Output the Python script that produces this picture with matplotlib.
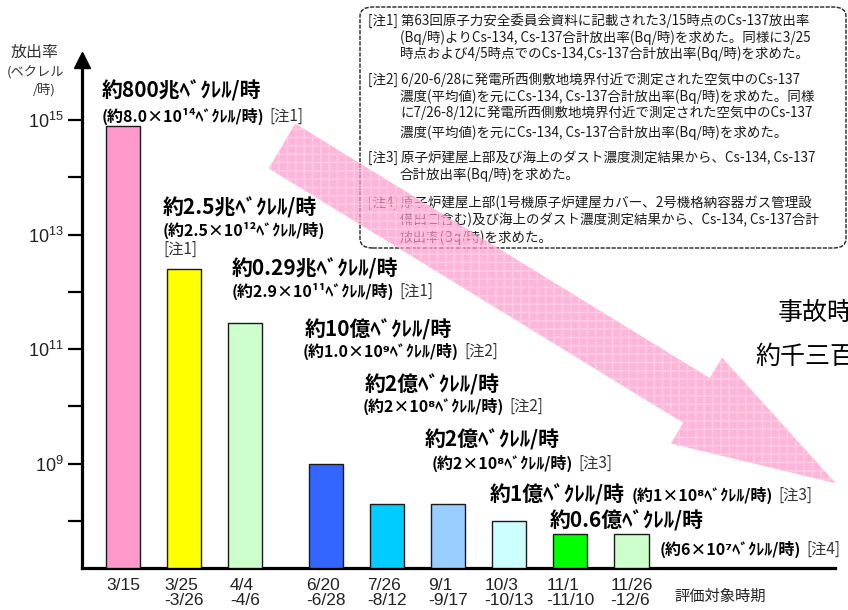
import numpy as np
import matplotlib
matplotlib.use('Agg')
import matplotlib.pyplot as plt
from matplotlib.patches import Polygon, FancyBboxPatch
from matplotlib.ticker import FixedLocator, FixedFormatter, NullFormatter

plt.rcParams['font.family'] = ['Noto Sans CJK JP', 'DejaVu Sans']
plt.rcParams['mathtext.default'] = 'regular'

# ---------------- data ----------------
periods = ['3/15', '3/25\n-3/26', '4/4\n-4/6', '6/20\n-6/28', '7/26\n-8/12',
           '9/1\n-9/17', '10/3\n-10/13', '11/1\n-11/10', '11/26\n-12/6']
rates = [8.0e14, 2.5e12, 2.9e11, 1.0e9, 2e8, 2e8, 1e8, 6e7, 6e7]
bar_colors = ['#ff99cc', '#ffff00', '#ccffcc', '#3366ff', '#00ccff',
              '#99ccff', '#ccffff', '#00ff00', '#ccffcc']
main_labels = ['約800兆ﾍﾞｸﾚﾙ/時', '約2.5兆ﾍﾞｸﾚﾙ/時', '約0.29兆ﾍﾞｸﾚﾙ/時',
               '約10億ﾍﾞｸﾚﾙ/時', '約2億ﾍﾞｸﾚﾙ/時', '約2億ﾍﾞｸﾚﾙ/時',
               '約1億ﾍﾞｸﾚﾙ/時', '約0.6億ﾍﾞｸﾚﾙ/時']
sci_labels = ['(約8.0×10¹⁴ﾍﾞｸﾚﾙ/時)', '(約2.5×10¹²ﾍﾞｸﾚﾙ/時)', '(約2.9×10¹¹ﾍﾞｸﾚﾙ/時)',
              '(約1.0×10⁹ﾍﾞｸﾚﾙ/時)', '(約2×10⁸ﾍﾞｸﾚﾙ/時)', '(約2×10⁸ﾍﾞｸﾚﾙ/時)',
              '(約1×10⁸ﾍﾞｸﾚﾙ/時)', '(約6×10⁷ﾍﾞｸﾚﾙ/時)']
note_refs = ['[注1]', '[注1]', '[注1]', '[注2]', '[注2]', '[注3]', '[注3]', '[注4]']
major_ticks = [1e15, 1e13, 1e11, 1e9]
major_tick_labels = ['$10^{15}$', '$10^{13}$', '$10^{11}$', '$10^{9}$']
minor_ticks = [1e14, 1e12, 1e10, 1e8]
notes = [
    ('[注1] 第63回原子力安全委員会資料に記載された3/15時点のCs-137放出率',
     '(Bq/時)よりCs-134, Cs-137合計放出率(Bq/時)を求めた。同様に3/25',
     '時点および4/5時点でのCs-134,Cs-137合計放出率(Bq/時)を求めた。'),
    ('[注2] 6/20-6/28に発電所西側敷地境界付近で測定された空気中のCs-137',
     '濃度(平均値)を元にCs-134, Cs-137合計放出率(Bq/時)を求めた。同様',
     'に7/26-8/12に発電所西側敷地境界付近で測定された空気中のCs-137',
     '濃度(平均値)を元にCs-134, Cs-137合計放出率(Bq/時)を求めた。'),
    ('[注3] 原子炉建屋上部及び海上のダスト濃度測定結果から、Cs-134, Cs-137',
     '合計放出率(Bq/時)を求めた。'),
    ('[注4] 原子炉建屋上部(1号機原子炉建屋カバー、2号機格納容器ガス管理設',
     '備出口含む)及び海上のダスト濃度測定結果から、Cs-134, Cs-137合計',
     '放出率(Bq/時)を求めた。'),
]

# ---------------- layout ----------------
W, H = 848, 610
def fx(x): return x / W
def fy(y): return 1 - y / H

fig = plt.figure(figsize=(W / 100, H / 100), dpi=100)
ax = fig.add_axes([fx(82), fy(568), fx(835) - fx(82), fy(60) - fy(568)])

n = len(rates)
idx = np.arange(n)
positions = idx + np.where(idx >= 3, 1 / 3, 0)
ymin = 10 ** 7.18
ymax = 10 ** 16.05
heights = np.array(rates) - ymin

ax.set_yscale('log')
ax.bar(positions, heights, width=0.56, bottom=ymin, color=bar_colors,
       edgecolor='#1a1a1a', linewidth=1.0, zorder=3)
ax.set_xlim(-0.672, 11.67)
ax.set_ylim(ymin, ymax)

for s in ['top', 'right']:
    ax.spines[s].set_visible(False)
for s in ['left', 'bottom']:
    ax.spines[s].set_linewidth(2.3)
    ax.spines[s].set_color('black')

ax.yaxis.set_major_locator(FixedLocator(major_ticks))
ax.yaxis.set_major_formatter(FixedFormatter(major_tick_labels))
ax.yaxis.set_minor_locator(FixedLocator(minor_ticks))
ax.yaxis.set_minor_formatter(NullFormatter())
ax.tick_params(axis='y', which='both', length=10, width=1.6, direction='out',
               labelsize=13, pad=3, labelcolor='#222222')
ax.set_xticks(positions)
ax.set_xticklabels(periods)
ax.tick_params(axis='x', length=0, pad=7, labelsize=12.5, labelcolor='#222222')
ax.tick_params(labelfontfamily='Liberation Sans')
for t in ax.get_xticklabels():
    t.set_multialignment('left')
    t.set_linespacing(1.0)

# arrow head on y axis
ax.plot([0], [1], marker='^', ms=11, color='black', transform=ax.transAxes,
        clip_on=False, zorder=6)

def ftxt(x, y, s, **kw):
    kw.setdefault('va', 'center')
    kw.setdefault('ha', 'left')
    return fig.text(fx(x), fy(y), s, **kw)

# y label
ftxt(35, 52, '放出率', ha='center', fontsize=11.5, color='#333333')
ftxt(36, 73, '(ベクレル', ha='center', fontsize=9.5, color='#333333')
ftxt(44, 90, '/時)', ha='center', fontsize=9.5, color='#333333')

# x label
ftxt(720, 596, '評価対象時期', ha='center', fontsize=11, color='#222222')

# notes box
box = FancyBboxPatch((fx(360), fy(248)), fx(846) - fx(360), fy(7) - fy(248),
                     boxstyle='round,pad=0,rounding_size=0.015',
                     transform=fig.transFigure, facecolor='white',
                     edgecolor='#222222', linewidth=1.0, linestyle=(0, (3, 1)),
                     zorder=2)
fig.patches.append(box)
note_y = [[21, 38, 54], [80, 97, 113, 133], [158, 175], [203, 220, 238]]
for lines, ys in zip(notes, note_y):
    for k, (line, y) in enumerate(zip(lines, ys)):
        ftxt(368 if k == 0 else 400, y, line, fontsize=9.7, color='#1a1a1a', zorder=3)

# big pink arrow (decorative)
d = np.array([0.860, 0.511]); d /= np.linalg.norm(d)
nv = np.array([-d[1], d[0]])
S = np.array([282.0, 146.0]); Hc = np.array([696.5, 400.5])
w, hw, L = 26, 50, 162
T = Hc + L * d
pts = [S - w * nv, Hc - w * nv, Hc - hw * nv, T, Hc + hw * nv, Hc + w * nv, S + w * nv]
pts_fig = [(fx(p[0]), fy(p[1])) for p in pts]
arrow = Polygon(pts_fig, closed=True, transform=fig.transFigure,
                facecolor='#ff99cc', edgecolor='#ffd6ea', linewidth=0,
                hatch='++', alpha=0.72, zorder=4)
fig.patches.append(arrow)

# right side comment (cut off by the figure edge in the original)
ftxt(778, 313, '事故時に比べ', fontsize=18, color='black', zorder=5)
ftxt(755, 357, '約千三百万分の一', fontsize=18, color='black', zorder=5)

# annotations: (x1, y1, x2, y2); note refs follow the sci text
ann_pos = [(102, 91, 102, 116),
           (163, 208, 163, 230),
           (232, 269, 232, 291),
           (305, 330, 303, 351),
           (365, 385, 363, 406),
           (425, 440, 432, 463),
           (490, 495, 632, 495),
           (550, 521, 660, 549)]
renderer = fig.canvas.get_renderer()
for i, (lab, sci, ref, (x1, y1, x2, y2)) in enumerate(zip(main_labels, sci_labels,
                                                          note_refs, ann_pos)):
    ftxt(x1, y1, lab, fontsize=15, fontweight='bold', color='black', zorder=5)
    st = ftxt(x2, y2, sci, fontsize=11.5, fontweight='bold', color='black', zorder=5)
    if i == 1:
        ftxt(x2, 249, ref, fontsize=11, color='#333333', zorder=5)
    else:
        bb = st.get_window_extent(renderer)
        ftxt(bb.x1 + 5, y2, ref, fontsize=11, color='#333333', zorder=5)

fig.savefig('out.png', dpi=100)
